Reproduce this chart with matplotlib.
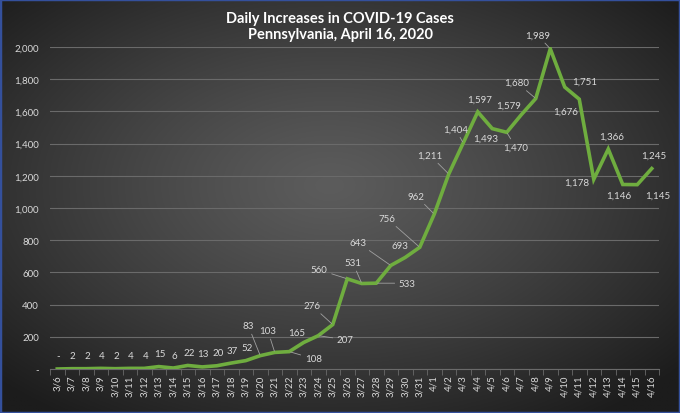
import numpy as np
import matplotlib.pyplot as plt

dates = ['3/6', '3/7', '3/8', '3/9', '3/10', '3/11', '3/12', '3/13', '3/14', '3/15',
         '3/16', '3/17', '3/18', '3/19', '3/20', '3/21', '3/22', '3/23', '3/24', '3/25',
         '3/26', '3/27', '3/28', '3/29', '3/30', '3/31', '4/1', '4/2', '4/3', '4/4',
         '4/5', '4/6', '4/7', '4/8', '4/9', '4/10', '4/11', '4/12', '4/13', '4/14',
         '4/15', '4/16']
cases = [0, 2, 2, 4, 2, 4, 4, 15, 6, 22,
         13, 20, 37, 52, 83, 103, 108, 165, 207, 276,
         560, 531, 533, 643, 693, 756, 962, 1211, 1404, 1597,
         1493, 1470, 1579, 1680, 1989, 1751, 1676, 1178, 1366, 1146,
         1145, 1245]
yticks = [0, 200, 400, 600, 800, 1000, 1200, 1400, 1600, 1800, 2000]

# label offsets in pixels (dx, dy; dy up) and whether a leader line is drawn
offsets = [(1, 13)] * 14 + [
    (-12, 30), (-7, 22), (24, -7), (-7, 10), (27, -4), (-21, 19),
    (-28, 9), (-9, 21), (31, 0), (-33, 23), (-5, 12), (-33, 29),
    (-18, 18), (-19, 19), (-8, 14), (2, 13), (-7, -10), (9, -15),
    (-13, 10), (-19, 16), (-13, 14), (20, 6), (-14, -12), (-17, -3),
    (3, 13), (-4, -11), (20, -11), (2, 13)]
leaders = {14, 15, 16, 18, 19, 20, 21, 22, 23, 25, 26, 27, 28, 31, 33, 34}

plt.rcParams['font.family'] = ['Lato', 'DejaVu Sans']

fig = plt.figure(figsize=(6.8, 4.14), dpi=100)

# dark radial background
bg = fig.add_axes([0, 0, 1, 1], zorder=-1)
yy, xx = np.mgrid[-1:1:300j, -1:1:400j]
r = np.clip(np.sqrt(((xx + 0.03) * 0.95) ** 2 + ((yy + 0.1) * 0.95) ** 2) / 1.3, 0, 1)
shade = (0x5c - (0x5c - 0x1c) * r ** 1.2) / 255
img = np.dstack([shade, shade, shade])
bg.imshow(img, aspect='auto', extent=[0, 1, 0, 1])
bg.set_xlim(0, 1)
bg.set_ylim(0, 1)
bg.axis('off')
bg.add_patch(plt.Rectangle((0, 0), 1, 1, fill=False, ec='#34509c', lw=2.5,
                           transform=bg.transAxes))

ax = fig.add_axes([50 / 680, 44 / 414, 609 / 680, 322 / 414])
ax.set_facecolor('none')
x = np.arange(len(dates))
ax.plot(x, cases, color='#6fad3f', lw=2.6, solid_joinstyle='miter', zorder=3)

for i, v in enumerate(cases):
    txt = '-' if v == 0 else f'{v:,}'
    dx, dy = offsets[i]
    props = None
    if i in leaders:
        props = dict(arrowstyle='-', color='#a0a0a0', lw=0.6, shrinkA=1, shrinkB=1)
    ax.annotate(txt, (x[i], v), xytext=(dx, dy), textcoords='offset pixels',
                ha='center', va='center', fontsize=7, color='#d9d9d9',
                arrowprops=props, zorder=4)

ax.set_xlim(-0.5, len(dates) - 0.5)
ax.set_ylim(0, 2000)
ax.set_yticks(yticks)
ax.set_yticklabels(['-' if t == 0 else f'{t:,}' for t in yticks])
ax.set_xticks(x)
ax.set_xticklabels(dates, rotation=90)
ax.set_xticks(np.arange(-0.5, len(dates), 1), minor=True)
ax.tick_params(axis='x', which='major', length=0, labelsize=7, colors='#d9d9d9', pad=4)
ax.tick_params(axis='x', which='minor', length=4, direction='out', color='#6a6a6a')
ax.tick_params(axis='y', length=0, labelsize=7, colors='#d9d9d9', pad=8)
ax.grid(axis='y', color='#6a6a6a', lw=0.8)
ax.set_axisbelow(True)
for s in ['top', 'right', 'left']:
    ax.spines[s].set_visible(False)
ax.spines['bottom'].set_color('#6a6a6a')

fig.text(0.5, 0.955, 'Daily Increases in COVID-19 Cases', ha='center', va='center',
         fontsize=10.5, fontweight='bold', color='white')
fig.text(0.5, 0.915, 'Pennsylvania, April 16, 2020', ha='center', va='center',
         fontsize=10.5, fontweight='bold', color='white')

fig.savefig('out.png', dpi=100)
